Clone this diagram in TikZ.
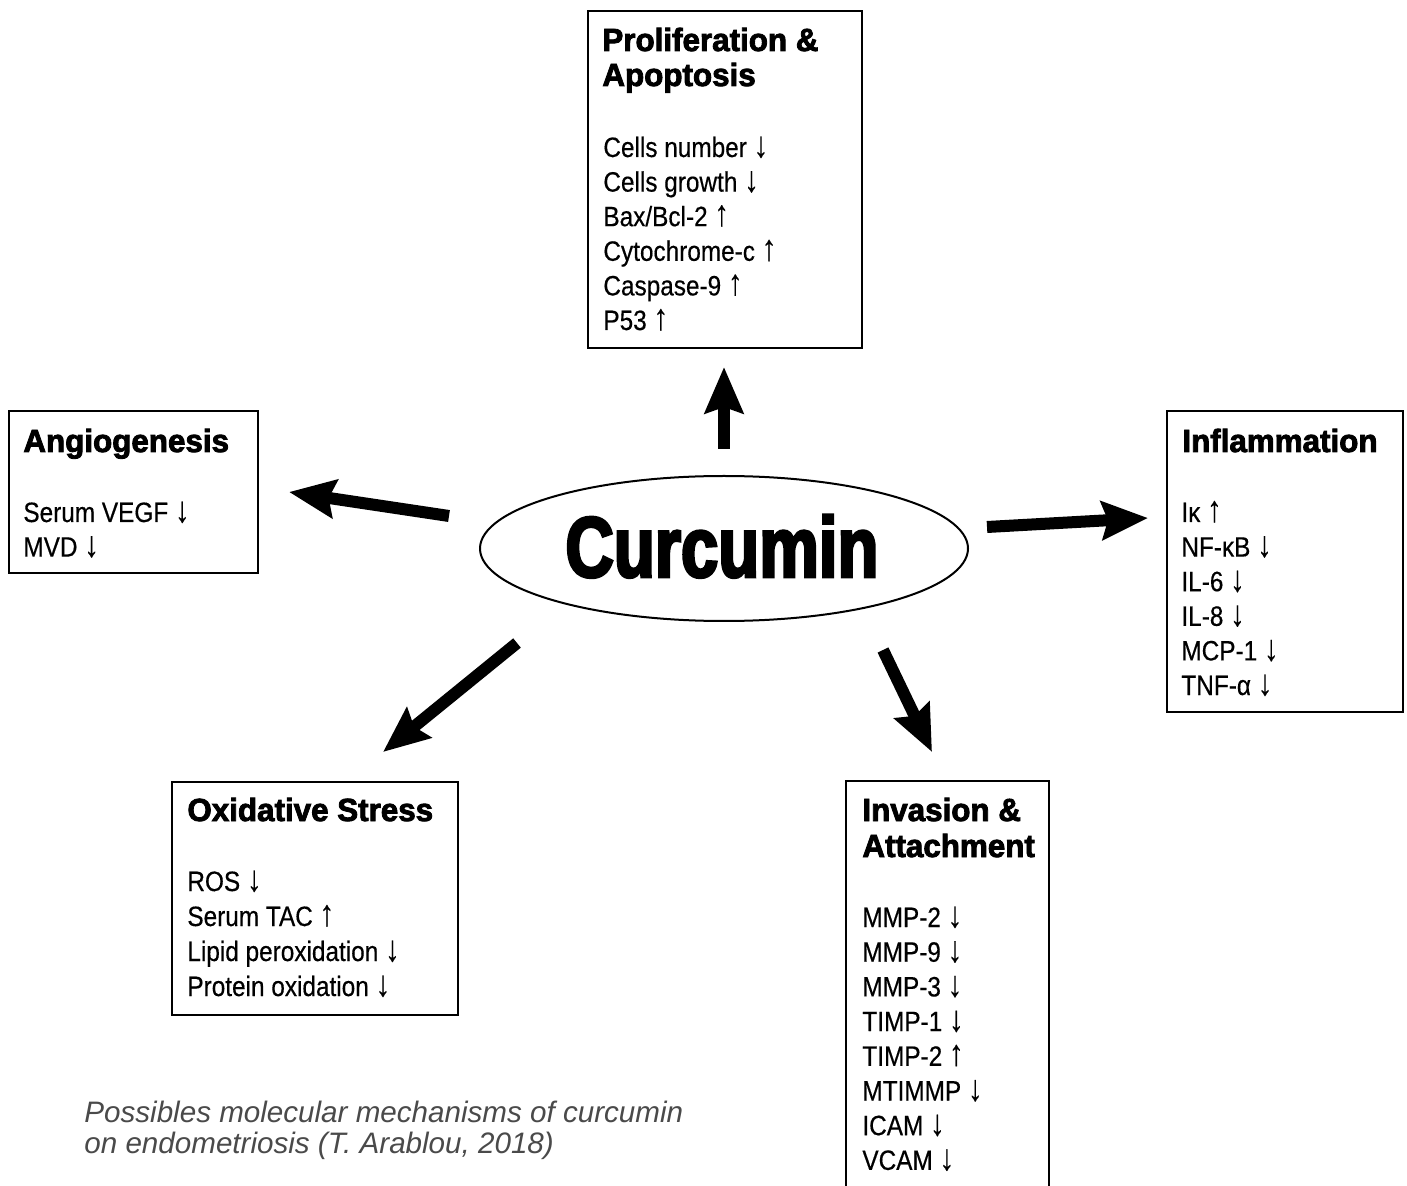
\documentclass[tikz,border=0pt]{standalone}
\usepackage{fontspec}
\usepackage{graphicx}
\setmainfont{Liberation Sans}
\newfontfamily\bodyfont[FakeStretch=0.87,FakeBold=0.4]{Liberation Sans}
\newfontfamily\headfont[FakeStretch=0.98,FakeBold=2.6]{Liberation Sans Bold}
\newfontfamily\bigfont[FakeStretch=0.78,FakeBold=3.2]{Liberation Sans Bold}
\newfontfamily\capfont{Liberation Sans Italic}
\newcommand\dnar{\raisebox{0em}{\scalebox{1.2}[1.3]{↓}}}
\newcommand\upar{\raisebox{0.02em}{\scalebox{1.2}[1.3]{↑}}}
\usetikzlibrary{arrows.meta,shapes.geometric}
\definecolor{capgray}{HTML}{4A4A4A}
\begin{document}
\begin{tikzpicture}[x=0.5pt,y=-0.5pt,
  box/.style={draw, line width=1.1pt, inner sep=0pt, anchor=north west},
  head/.style={anchor=base west, inner sep=0pt, font=\headfont\fontsize{16}{18}\selectfont},
  body/.style={anchor=base west, inner sep=0pt, font=\bodyfont\fontsize{14}{17}\selectfont},
  bigarrow/.style={-{Stealth[length=23pt,width=19pt,inset=3pt]}, line width=6pt},
  capt/.style={anchor=base west, inner sep=0pt, text=capgray, font=\capfont\fontsize{14.8}{17}\selectfont}]
\useasboundingbox (0,0) rectangle (1407,1186);
\fill[white] (0,0) rectangle (1407,1186);
\clip (0,0) rectangle (1407,1186);

% centre
\node[draw, ellipse, line width=1pt, minimum width=244pt, minimum height=72.5pt, inner sep=0pt] (cur) at (724,548.5) {};
\node[anchor=base, inner sep=0pt, font=\bigfont\fontsize{43}{46}\selectfont] (curtext) at (722,577) {Curcumin};

% boxes
\node[box, minimum width=137pt, minimum height=168.5pt] (prolif) at (587,10) {};
\node[box, minimum width=124.5pt, minimum height=81pt] (angio) at (8,410) {};
\node[box, minimum width=118pt, minimum height=150.5pt] (infl) at (1166,410) {};
\node[box, minimum width=143pt, minimum height=116.5pt] (oxid) at (171,781) {};
\node[box, minimum width=101.5pt, minimum height=215pt] (inva) at (845,780) {};

% titles
\node[head] (prolifT1) at (602,51) {Proliferation \&};
\node[head] (prolifT2) at (602,86) {Apoptosis};
\node[head] (angioT) at (23,452) {Angiogenesis};
\node[head] (inflT) at (1182,452) {Inflammation};
\node[head] (oxidT) at (187,821) {Oxidative Stress};
\node[head] (invaT1) at (862,821) {Invasion \&};
\node[head] (invaT2) at (862,857) {Attachment};

% body lines
\foreach \t [count=\i from 0] in {Cells number \dnar, Cells growth \dnar, Bax/Bcl-2 \upar, Cytochrome-c \upar, Caspase-9 \upar, P53 \upar}
  \node[body] (prolifL\i) at (603,{157+34.6*\i}) {\t};
\foreach \t [count=\i from 0] in {Serum VEGF \dnar, MVD \dnar}
  \node[body] (angioL\i) at (23,{522+34.6*\i}) {\t};
\foreach \t [count=\i from 0] in {Iκ \upar, NF-κB \dnar, IL-6 \dnar, IL-8 \dnar, MCP-1 \dnar, TNF-α \dnar}
  \node[body] (inflL\i) at (1181,{522+34.6*\i}) {\t};
\foreach \t [count=\i from 0] in {ROS \dnar, Serum TAC \upar, Lipid peroxidation \dnar, Protein oxidation \dnar}
  \node[body] (oxidL\i) at (187,{891+35*\i}) {\t};
\foreach \t [count=\i from 0] in {MMP-2 \dnar, MMP-9 \dnar, MMP-3 \dnar, TIMP-1 \dnar, TIMP-2 \upar, MTIMMP \dnar, ICAM \dnar, VCAM \dnar}
  \node[body] (invaL\i) at (862,{927+34.7*\i}) {\t};

% arrows
\coordinate (upS) at (724,449);   \coordinate (upE) at (724,367);
\coordinate (lfS) at (449,516);   \coordinate (lfE) at (289,492);
\coordinate (rtS) at (987,527);   \coordinate (rtE) at (1148,518);
\coordinate (dlS) at (517,643);   \coordinate (dlE) at (383,752);
\coordinate (drS) at (883,650);   \coordinate (drE) at (932,752);
\draw[bigarrow] (upS) -- (upE);
\draw[bigarrow] (lfS) -- (lfE);
\draw[bigarrow] (rtS) -- (rtE);
\draw[bigarrow] (dlS) -- (dlE);
\draw[bigarrow] (drS) -- (drE);

% caption
\node[capt] (cap1) at (84,1122) {Possibles molecular mechanisms of curcumin};
\node[capt] (cap2) at (84,1153) {on endometriosis (T. Arablou, 2018)};
\end{tikzpicture}
\end{document}
